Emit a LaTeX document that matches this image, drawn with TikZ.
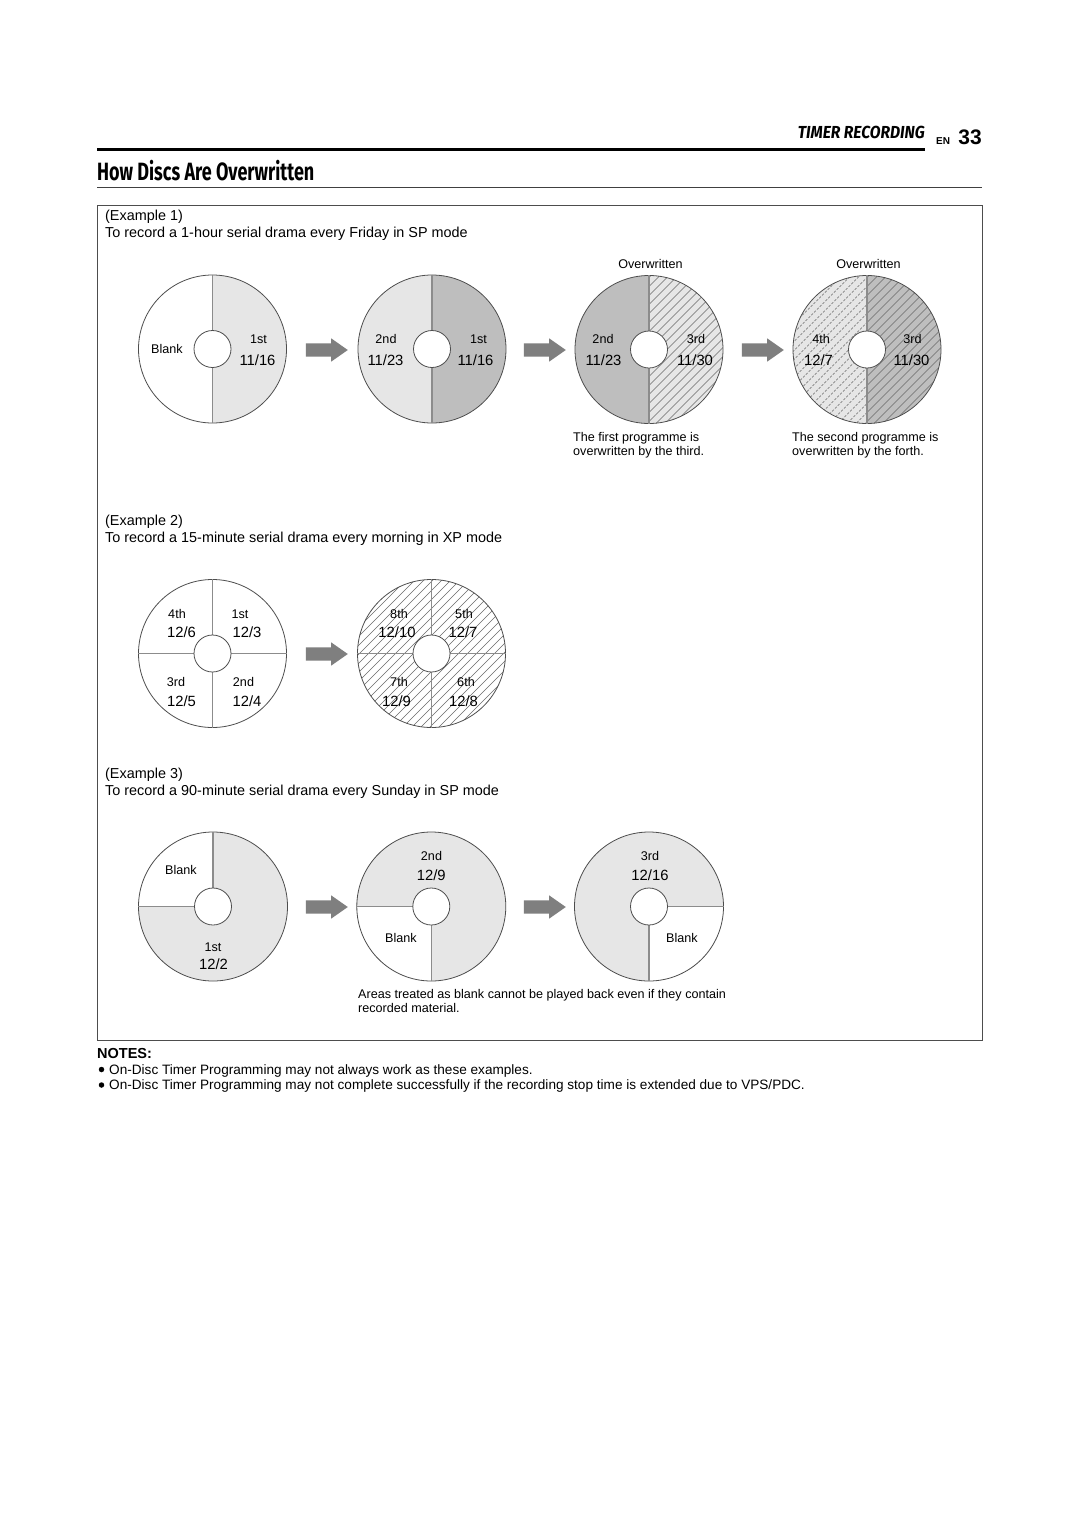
\documentclass[tikz,border=0pt]{standalone}
\usepackage{fontspec}
\setmainfont{Liberation Sans}
\newfontfamily\headfont[FakeStretch=0.72]{Fira Sans}
\newfontfamily\runfont[FakeStretch=0.9]{Fira Sans}
\usetikzlibrary{shapes.arrows}
\definecolor{lightfill}{HTML}{E6E6E6}
\definecolor{darkfill}{HTML}{BEBEBE}
\definecolor{rim}{HTML}{4D4D4D}
\definecolor{divider}{HTML}{8C8C8C}
\definecolor{arrowgray}{HTML}{7F7F7F}
\definecolor{hatchc}{HTML}{6A6A6A}
\newcommand\myhatch[3][]{%
  \foreach \k in {-12,...,12} {\draw[hatchline,#1] ({#2+\k*9-110},{#3+110}) -- ({#2+\k*9+110},{#3-110});}}
\begin{document}
\begin{tikzpicture}[x=1pt,y=-1pt,
  lbl/.style={font=\fontsize{12.6}{14}\selectfont, inner sep=0, anchor=base},
  datelbl/.style={font=\fontsize{14.8}{17}\selectfont, inner sep=0, anchor=base},
  body/.style={font=\fontsize{14.4}{16}\selectfont, inner sep=0, anchor=base west},
  caption/.style={font=\fontsize{12.6}{14}\selectfont, inner sep=0, anchor=base west},
  note/.style={font=\fontsize{13.6}{15}\selectfont, inner sep=0, anchor=base west},
  bulletdot/.style={circle, fill=black, inner sep=0, minimum size=5.5pt},
  disc/.style={circle, draw=rim, line width=0.8pt, minimum size=148pt, inner sep=0},
  hole/.style={circle, draw=rim, fill=white, line width=0.8pt, minimum size=37pt, inner sep=0},
  divline/.style={draw=divider, line width=1.4pt},
  hatchline/.style={draw=hatchc, line width=0.4pt},
  blockarrow/.style={single arrow, fill=arrowgray, draw=none, minimum height=42pt,
    inner xsep=0pt, inner ysep=6.5pt, single arrow head extend=5pt, single arrow tip angle=70}]
\useasboundingbox (0,0) rectangle (1080,1528);
\fill[white] (0,0) rectangle (1080,1528);

% ---------- header ----------
\node[anchor=base east, inner sep=0, font=\runfont\bfseries\itshape\fontsize{17.4}{20}\selectfont] (tr) at (925,138.5) {TIMER RECORDING};
\node[anchor=base west, inner sep=0, font=\bfseries\fontsize{10}{12}\selectfont] (en) at (936,144) {EN};
\node[anchor=base east, inner sep=0, font=\bfseries\fontsize{21}{24}\selectfont] (pg) at (982,144) {33};
\draw[line width=3pt] (97,149.5) -- (925,149.5);
\node[anchor=base west, inner sep=0, font=\headfont\bfseries\fontsize{25}{28}\selectfont] (ttl) at (97,180) {How Discs Are Overwritten};
\draw[line width=1pt, black!75] (97,187) -- (982,187);
\draw[line width=0.8pt, rim] (97,205) rectangle (982,1040);

% ---------- Example 1 ----------
\node[body] (ex1) at (105,220) {(Example 1)};
\node[body] (ex1t) at (105,237) {To record a 1-hour serial drama every Friday in SP mode};

% disc 1a
\begin{scope}\clip (212.5,349) circle[radius=74pt];
  \fill[lightfill] (212.5,270) rectangle (290,430);
\end{scope}
\node[disc] (d1a) at (212.5,349) {};
\draw[divline] (d1a.north) -- (d1a.south);
\node[hole] (h1a) at (d1a.center) {};
\node[lbl] at (167,353) {Blank};
\node[lbl] at (258.5,343) {1st};
\node[datelbl] at (257.5,365) {11/16};

\node[blockarrow] (a1) at (322,350) {};

% disc 1b
\begin{scope}\clip (432,349) circle[radius=74pt];
  \fill[lightfill] (350,270) rectangle (432,430);
  \fill[darkfill] (432,270) rectangle (510,430);
\end{scope}
\node[disc] (d1b) at (432,349) {};
\draw[divline] (d1b.north) -- (d1b.south);
\node[hole] (h1b) at (d1b.center) {};
\node[lbl] at (386,343) {2nd};
\node[datelbl] at (385.5,365) {11/23};
\node[lbl] at (478.5,343) {1st};
\node[datelbl] at (475.5,365) {11/16};

\node[blockarrow] (a2) at (540,350) {};

% disc 1c
\begin{scope}\clip (649,349.5) circle[radius=74pt];
  \fill[darkfill] (570,270) rectangle (649,430);
  \fill[lightfill] (649,270) rectangle (730,430);
  \clip (649,270) rectangle (730,430);
  \myhatch{649}{349.5}
\end{scope}
\node[disc] (d1c) at (649,349.5) {};
\draw[divline] (d1c.north) -- (d1c.south);
\node[hole] (h1c) at (d1c.center) {};
\node[lbl] at (603,343) {2nd};
\node[datelbl] at (603.5,365) {11/23};
\node[lbl] at (696,343) {3rd};
\node[datelbl] at (695,365) {11/30};
\node[lbl] at (650.5,268) {Overwritten};
\node[caption] at (573,441) {The first programme is};
\node[caption] at (573,455) {overwritten by the third.};

\node[blockarrow] (a3) at (758,350) {};

% disc 1d
\begin{scope}\clip (867,349.5) circle[radius=74pt];
  \fill[lightfill] (790,270) rectangle (867,430);
  \fill[darkfill] (867,270) rectangle (945,430);
  \begin{scope}\clip (790,270) rectangle (867,430);
    \myhatch[dash pattern=on 2.5pt off 1.5pt, draw=black!60]{867}{349.5}
  \end{scope}
  \begin{scope}\clip (867,270) rectangle (945,430);
    \myhatch{867}{349.5}
  \end{scope}
\end{scope}
\node[disc] (d1d) at (867,349.5) {};
\draw[divline] (d1d.north) -- (d1d.south);
\node[hole] (h1d) at (d1d.center) {};
\node[lbl] at (821,343) {4th};
\node[datelbl] at (818.5,365) {12/7};
\node[lbl] at (912.5,343) {3rd};
\node[datelbl] at (911.5,365) {11/30};
\node[lbl] at (868.5,268) {Overwritten};
\node[caption] at (792,441) {The second programme is};
\node[caption] at (792,455) {overwritten by the forth.};

% ---------- Example 2 ----------
\node[body] (ex2) at (105,525) {(Example 2)};
\node[body] (ex2t) at (105,542) {To record a 15-minute serial drama every morning in XP mode};

\node[disc] (d2a) at (212.5,653.5) {};
\draw[divline] (d2a.north) -- (d2a.south);
\draw[divline] (d2a.west) -- (d2a.east);
\node[hole] (h2a) at (d2a.center) {};
\node[lbl] at (177,618) {4th};
\node[datelbl] at (181.5,637) {12/6};
\node[lbl] at (240,618) {1st};
\node[datelbl] at (247,637) {12/3};
\node[lbl] at (176,686) {3rd};
\node[datelbl] at (181.5,706) {12/5};
\node[lbl] at (243.5,686) {2nd};
\node[datelbl] at (247,706) {12/4};

\node[blockarrow] (a4) at (322,654) {};

\begin{scope}\clip (431.5,653.5) circle[radius=74pt];
  \myhatch{431.5}{653.5}
\end{scope}
\node[disc] (d2b) at (431.5,653.5) {};
\draw[divline] (d2b.north) -- (d2b.south);
\draw[divline] (d2b.west) -- (d2b.east);
\node[hole] (h2b) at (d2b.center) {};
\node[lbl] at (399,618) {8th};
\node[datelbl] at (397,637) {12/10};
\node[lbl] at (464,618) {5th};
\node[datelbl] at (463,637) {12/7};
\node[lbl] at (399,686) {7th};
\node[datelbl] at (396.5,706) {12/9};
\node[lbl] at (466,686) {6th};
\node[datelbl] at (463.5,706) {12/8};

% ---------- Example 3 ----------
\node[body] (ex3) at (105,778) {(Example 3)};
\node[body] (ex3t) at (105,795) {To record a 90-minute serial drama every Sunday in SP mode};

\begin{scope}\clip (213,906.5) circle[radius=74.5pt];
  \fill[lightfill] (130,820) rectangle (300,990);
  \fill[white] (130,820) rectangle (213,906.5);
\end{scope}
\node[disc, minimum size=149pt] (d3a) at (213,906.5) {};
\draw[divline] (d3a.center) -- (d3a.north);
\draw[divline] (d3a.center) -- (d3a.west);
\node[hole] (h3a) at (d3a.center) {};
\node[lbl] at (181,874) {Blank};
\node[lbl] at (213,951) {1st};
\node[datelbl] at (213.5,969) {12/2};

\node[blockarrow] (a5) at (322,907) {};

\begin{scope}\clip (431.3,906.5) circle[radius=74.5pt];
  \fill[lightfill] (350,820) rectangle (510,990);
  \fill[white] (350,906.5) rectangle (431.3,990);
\end{scope}
\node[disc, minimum size=149pt] (d3b) at (431.3,906.5) {};
\draw[divline] (d3b.center) -- (d3b.west);
\draw[divline] (d3b.center) -- (d3b.south);
\node[hole] (h3b) at (d3b.center) {};
\node[lbl] at (431.5,860) {2nd};
\node[datelbl] at (431.3,880) {12/9};
\node[lbl] at (401,942.5) {Blank};

\node[blockarrow] (a6) at (540,907) {};

\begin{scope}\clip (649,906.5) circle[radius=74.5pt];
  \fill[lightfill] (570,820) rectangle (730,990);
  \fill[white] (649,906.5) rectangle (730,990);
\end{scope}
\node[disc, minimum size=149pt] (d3c) at (649,906.5) {};
\draw[divline] (d3c.center) -- (d3c.east);
\draw[divline] (d3c.center) -- (d3c.south);
\node[hole] (h3c) at (d3c.center) {};
\node[lbl] at (650,860) {3rd};
\node[datelbl] at (650,880) {12/16};
\node[lbl] at (682,942.5) {Blank};

\node[caption] at (358,998) {Areas treated as blank cannot be played back even if they contain};
\node[caption] at (358,1012.5) {recorded material.};

% ---------- Notes ----------
\node[anchor=base west, inner sep=0, font=\bfseries\fontsize{14.5}{16}\selectfont] (notes) at (97,1058) {NOTES:};
\node[bulletdot] (b1) at (101.5,1069.5) {};
\node[note] (n1) at (109,1074) {On-Disc Timer Programming may not always work as these examples.};
\node[bulletdot] (b2) at (101.5,1085) {};
\node[note] (n2) at (109,1089.5) {On-Disc Timer Programming may not complete successfully if the recording stop time is extended due to VPS/PDC.};
\end{tikzpicture}
\end{document}
